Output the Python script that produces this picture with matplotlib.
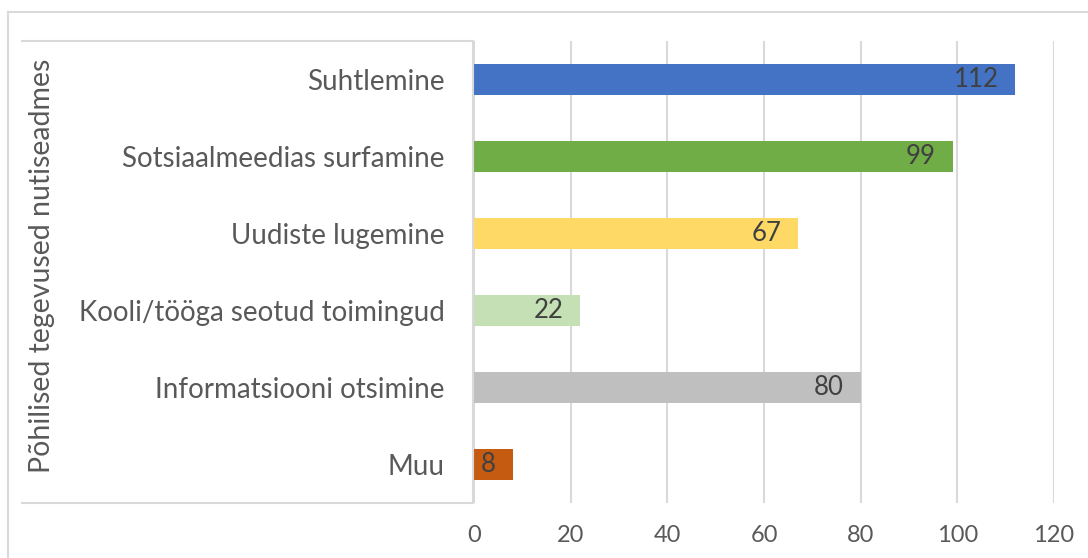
import matplotlib.pyplot as plt
from matplotlib.lines import Line2D

plt.rcParams['font.family'] = ['Lato', 'DejaVu Sans']

categories = ['Suhtlemine', 'Sotsiaalmeedias surfamine', 'Uudiste lugemine',
              'Kooli/tööga seotud toimingud', 'Informatsiooni otsimine', 'Muu']
values = [112, 99, 67, 22, 80, 8]
colors = ['#4472C4', '#70AD47', '#FFD966', '#C5E0B4', '#BFBFBF', '#C55A11']
xticks = [0, 20, 40, 60, 80, 100, 120]
ylabel = 'Põhilised tegevused nutiseadmes'

W, H = 1088, 558
fig = plt.figure(figsize=(W / 100, H / 100), dpi=100)

# plot area in pixels: x 474..1054, y 41..503
ax = fig.add_axes([474 / W, 1 - 503 / H, 580 / W, 462 / H])

ypos = list(range(len(categories)))
ax.barh(ypos, values, height=0.4, color=colors, zorder=2)
ax.set_ylim(len(categories) - 0.5, -0.5)
ax.set_xlim(0, 120)
ax.set_xticks(xticks)
ax.set_yticks(ypos)
ax.set_yticklabels(categories, fontsize=20)

for y, v in zip(ypos, values):
    ax.annotate(str(v), xy=(v, y), xytext=(-12, 0), textcoords='offset points',
                ha='right', va='center', fontsize=18.5, color='#404040')

ax.grid(axis='x', color='#D9D9D9', linewidth=1.5, zorder=0)
for s in ax.spines.values():
    s.set_visible(False)
ax.tick_params(axis='both', length=0, colors='#595959')
ax.tick_params(axis='x', labelsize=17, pad=16)
ax.tick_params(axis='y', pad=21)

fig.text(42 / W, 1 - 266 / H, ylabel, rotation=90, ha='center', va='center',
         fontsize=20.5, color='#595959')

# inner box around the category axis
def px_line(xs, ys):
    fig.add_artist(Line2D([x / W for x in xs], [1 - y / H for y in ys],
                          color='#D9D9D9', linewidth=1.5, transform=fig.transFigure))

px_line([22, 473], [41, 41])
px_line([473, 473], [41, 503])
px_line([22, 473], [503, 503])

# outer chart frame
px_line([8, 1088], [12, 12])
px_line([8, 8], [12, 558])

fig.savefig('out.png', dpi=100)
